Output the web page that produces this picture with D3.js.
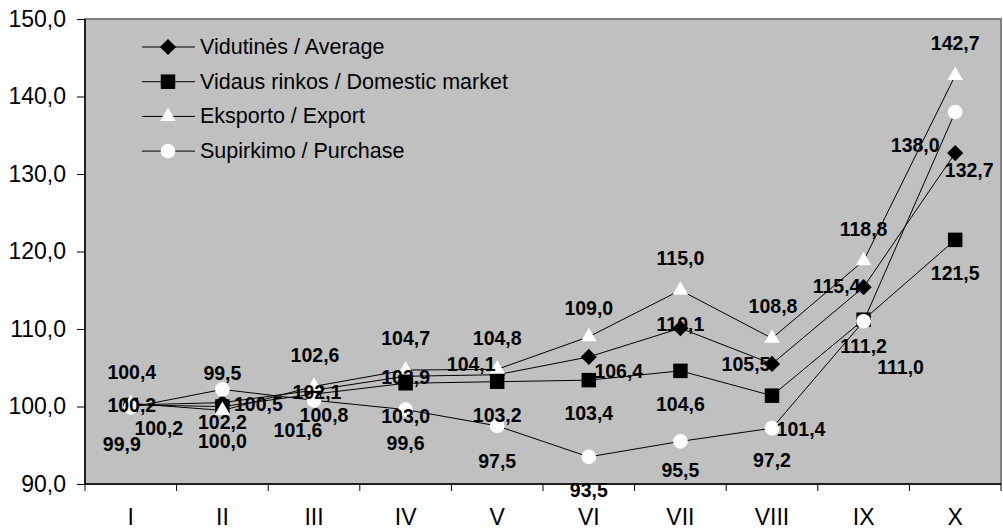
<!DOCTYPE html>
<html>
<head>
<meta charset="utf-8">
<script src="https://cdn.jsdelivr.net/npm/d3@7/dist/d3.min.js"></script>
<style>
  html, body { margin: 0; padding: 0; background: #ffffff; }
  svg { display: block; font-family: "Liberation Sans", Arial, sans-serif; }
</style>
</head>
<body>
<svg id="chart" width="1003" height="530"></svg>
<script>
// ---- data ----
const categories = ["I", "II", "III", "IV", "V", "VI", "VII", "VIII", "IX", "X"];
const seriesNames = ["Vidutinės / Average", "Vidaus rinkos / Domestic market", "Eksporto / Export", "Supirkimo / Purchase"];
const average  = [100.2, 100.5, 102.1, 103.9, 104.1, 106.4, 110.1, 105.5, 115.4, 132.7];
const domestic = [100.2, 100.0, 101.6, 103.0, 103.2, 103.4, 104.6, 101.4, 111.2, 121.5];
const exportS  = [100.4,  99.5, 102.6, 104.7, 104.8, 109.0, 115.0, 108.8, 118.8, 142.7];
const purchase = [ 99.9, 102.2, 100.8,  99.6,  97.5,  93.5,  95.5,  97.2, 111.0, 138.0];
const yTicks = [90, 100, 110, 120, 130, 140, 150];

// ---- layout (label nudges, px) ----
const nudgeAvg  = [[1,0],[36,1],[3,2],[0,1],[-26,-11],[30,14],[0,-4],[-26,0],[-27,-1],[14,17]];
const nudgeDom  = [[28,23],[0,34],[-16,36],[0,33],[0,33],[0,33],[0,33],[29,33],[0,26],[0,33]];
const nudgeExp  = [[1,-31],[0,-37],[1,-31],[0,-32],[0,-31],[0,-29],[0,-32],[1,-32],[0,-32],[0,-33]];
const nudgePur  = [[-9,37],[0,33],[10,15],[0,33],[0,35],[0,33],[0,29],[0,32],[37,46],[-40,33]];

const svg = d3.select("#chart");
const L = 85, R = 1001, T = 19, B = 484;

const x = d3.scaleBand().domain(categories).range([L, R]);
const y = d3.scaleLinear().domain([90, 150]).range([B, T]);
const cx = c => x(c) + x.bandwidth() / 2;
const fmt = v => d3.format(".1f")(v).replace(".", ",");

// plot area
svg.append("rect").attr("x", L).attr("y", T).attr("width", R - L).attr("height", B - T)
  .attr("fill", "#c0c0c0").attr("stroke", "#808080").attr("stroke-width", 2);

// y axis
const yAxis = svg.append("g").attr("transform", `translate(${L},0)`)
  .call(d3.axisLeft(y).tickValues(yTicks).tickSize(8).tickPadding(11).tickFormat(fmt));
yAxis.selectAll("text").attr("font-size", 23).attr("fill", "#000").attr("font-family", "Liberation Sans, Arial, sans-serif");
yAxis.selectAll("line").attr("stroke", "#000");
yAxis.select(".domain").attr("stroke", "#000").attr("stroke-width", 1.5).attr("d", `M0,${T}V${B}`);

// x axis
const xAxis = svg.append("g").attr("transform", `translate(0,${B})`)
  .call(d3.axisBottom(x).tickSize(0).tickPadding(25));
xAxis.selectAll("text").attr("font-size", 23).attr("fill", "#000").attr("font-family", "Liberation Sans, Arial, sans-serif");
xAxis.select(".domain").attr("stroke", "#000").attr("stroke-width", 1.5).attr("d", `M${L},0H${R}`);
const bounds = categories.map(c => x(c)).concat([R]);
xAxis.selectAll("line.bt").data(bounds).enter().append("line").attr("class", "bt")
  .attr("x1", d => d).attr("x2", d => d).attr("y1", 0).attr("y2", 7).attr("stroke", "#000");

// custom diamond (equal diagonals)
const diamond = {
  draw(ctx, size) {
    const r = Math.sqrt(size / 2);
    ctx.moveTo(0, -r); ctx.lineTo(r, 0); ctx.lineTo(0, r); ctx.lineTo(-r, 0); ctx.closePath();
  }
};

const series = [
  { name: seriesNames[0], values: average,  sym: diamond,          size: 130, fill: "#000", nudge: nudgeAvg },
  { name: seriesNames[1], values: domestic, sym: d3.symbolSquare,  size: 210, fill: "#000", nudge: nudgeDom },
  { name: seriesNames[2], values: exportS,  sym: d3.symbolTriangle, size: 105, fill: "#fff", nudge: nudgeExp },
  { name: seriesNames[3], values: purchase, sym: d3.symbolCircle,  size: 170, fill: "#fff", nudge: nudgePur }
];

const line = d3.line().x(d => cx(d.c)).y(d => y(d.v));

series.forEach(s => {
  const pts = categories.map((c, i) => ({ c, v: s.values[i] }));
  const g = svg.append("g");
  g.append("path").datum(pts).attr("d", line).attr("fill", "none").attr("stroke", "#000").attr("stroke-width", 1);
  g.selectAll("path.m").data(pts).enter().append("path").attr("class", "m")
    .attr("d", d3.symbol().type(s.sym).size(s.size))
    .attr("transform", d => `translate(${cx(d.c)},${y(d.v)})`)
    .attr("fill", s.fill);
});

// data labels
series.forEach(s => {
  svg.append("g").selectAll("text").data(categories).enter().append("text")
    .attr("x", (c, i) => cx(c) + s.nudge[i][0])
    .attr("y", (c, i) => y(s.values[i]) + s.nudge[i][1])
    .attr("text-anchor", "middle").attr("dominant-baseline", "central")
    .attr("font-size", 19.5).attr("font-weight", "bold").attr("fill", "#000")
    .text((c, i) => fmt(s.values[i]));
});

// legend
const lg = svg.append("g");
series.forEach((s, i) => {
  const ly = 47 + i * 34.7;
  lg.append("line").attr("x1", 142).attr("x2", 195).attr("y1", ly).attr("y2", ly).attr("stroke", "#000");
  lg.append("path").attr("d", d3.symbol().type(s.sym).size(s.size))
    .attr("transform", `translate(168,${ly})`).attr("fill", s.fill);
  lg.append("text").attr("x", 200).attr("y", ly).attr("dominant-baseline", "central")
    .attr("font-size", 21.5).attr("fill", "#000").text(s.name);
});
</script>
</body>
</html>
